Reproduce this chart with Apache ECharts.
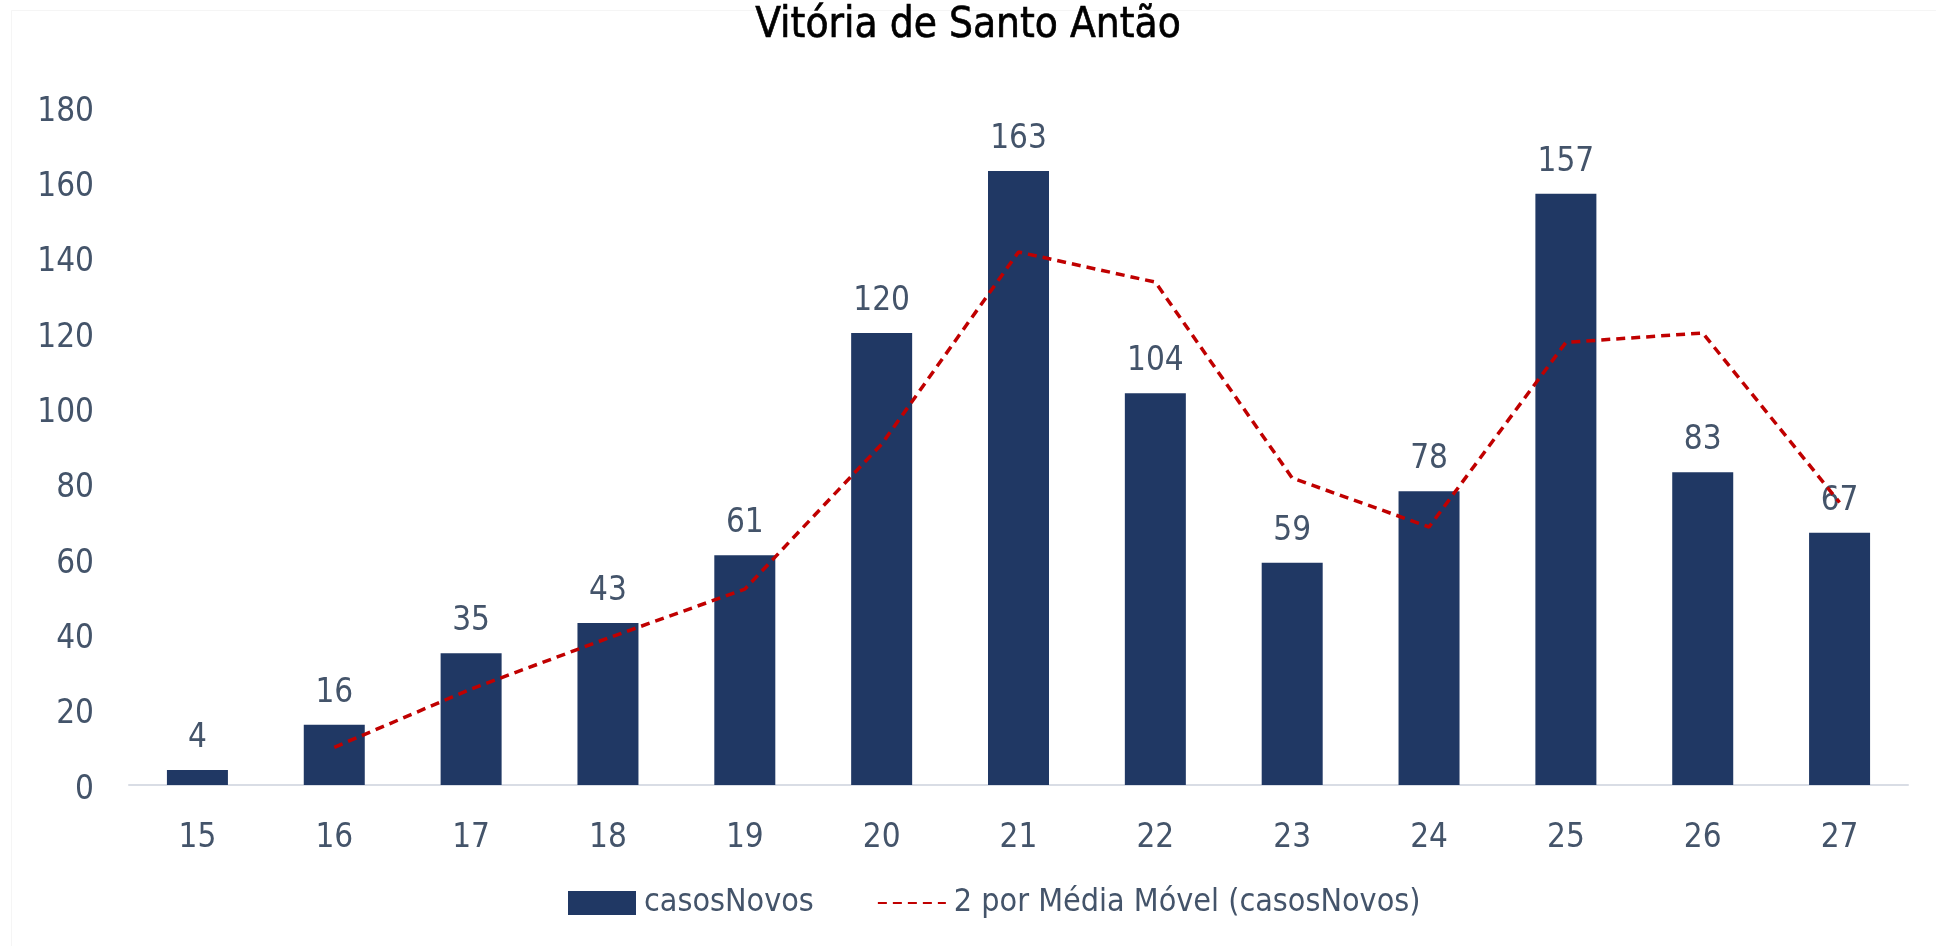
<!DOCTYPE html>
<html>
<head>
<meta charset="utf-8">
<script src="https://cdn.jsdelivr.net/npm/echarts@6/dist/echarts.min.js"></script>
<style>
html,body{margin:0;padding:0;background:#fff;}
#c{width:1936px;height:946px;}
</style>
</head>
<body>
<div id="c"></div>
<script>
const titleText = "Vitória de Santo Antão";
const categories = ["15","16","17","18","19","20","21","22","23","24","25","26","27"];
const casosNovos = [4,16,35,43,61,120,163,104,59,78,157,83,67];
const mediaMovel = [null,10,25.5,39,52,90.5,141.5,133.5,81.5,68.5,117.5,120,75];
const yTicks = {min:0, max:180, interval:20};

const FONT = '"DejaVu Sans Condensed","Liberation Sans Narrow","Roboto",sans-serif';
const TXT = '#44546A';

const chart = echarts.init(document.getElementById('c'));
chart.setOption({
  animation:false,
  backgroundColor:'#fff',
  graphic:[{
    type:'rect', left:9, top:8, silent:true,
    shape:{width:1936, height:946},
    style:{fill:'none', stroke:'#F5F5F5', lineWidth:1}
  }],
  title:{
    text:titleText, left:'center', top:0,
    textStyle:{fontFamily:FONT, fontSize:42, fontWeight:'normal', color:'#000', textBorderColor:'#000', textBorderWidth:0.6}
  },
  grid:{left:129, right:28, top:107, bottom:161, containLabel:false},
  legend:{
    bottom:22, left:563, itemGap:63, itemWidth:68, itemHeight:24,
    textStyle:{fontFamily:FONT, fontSize:32, color:TXT, padding:[0,0,0,3]},
    data:[
      {name:'casosNovos', icon:'rect'},
      {name:'2 por Média Móvel (casosNovos)', itemStyle:{opacity:0}}
    ]
  },
  xAxis:{
    type:'category', data:categories,
    axisLine:{lineStyle:{color:'#D9DDE5', width:2}},
    axisTick:{show:false},
    axisLabel:{fontFamily:FONT, fontSize:33, color:TXT, margin:37}
  },
  yAxis:{
    type:'value', min:yTicks.min, max:yTicks.max, interval:yTicks.interval,
    splitLine:{show:false}, axisLine:{show:false}, axisTick:{show:false},
    axisLabel:{
      fontFamily:FONT, fontSize:33, color:TXT, margin:35,
      formatter:'{a|{value}}',
      rich:{a:{fontFamily:FONT, fontSize:33, color:TXT, padding:[10,0,0,0]}}
    }
  },
  series:[
    {
      name:'casosNovos', type:'bar', data:casosNovos, barWidth:61,
      itemStyle:{color:'#203864'},
      label:{show:true, position:'top', distance:15, fontFamily:FONT, fontSize:33, color:TXT}
    },
    {
      name:'2 por Média Móvel (casosNovos)', type:'line', data:mediaMovel,
      symbol:'none', connectNulls:false,
      lineStyle:{color:'#C00000', width:3.5, type:[9,6]},
      itemStyle:{color:'#C00000'}, z:5
    }
  ]
});
</script>
</body>
</html>
